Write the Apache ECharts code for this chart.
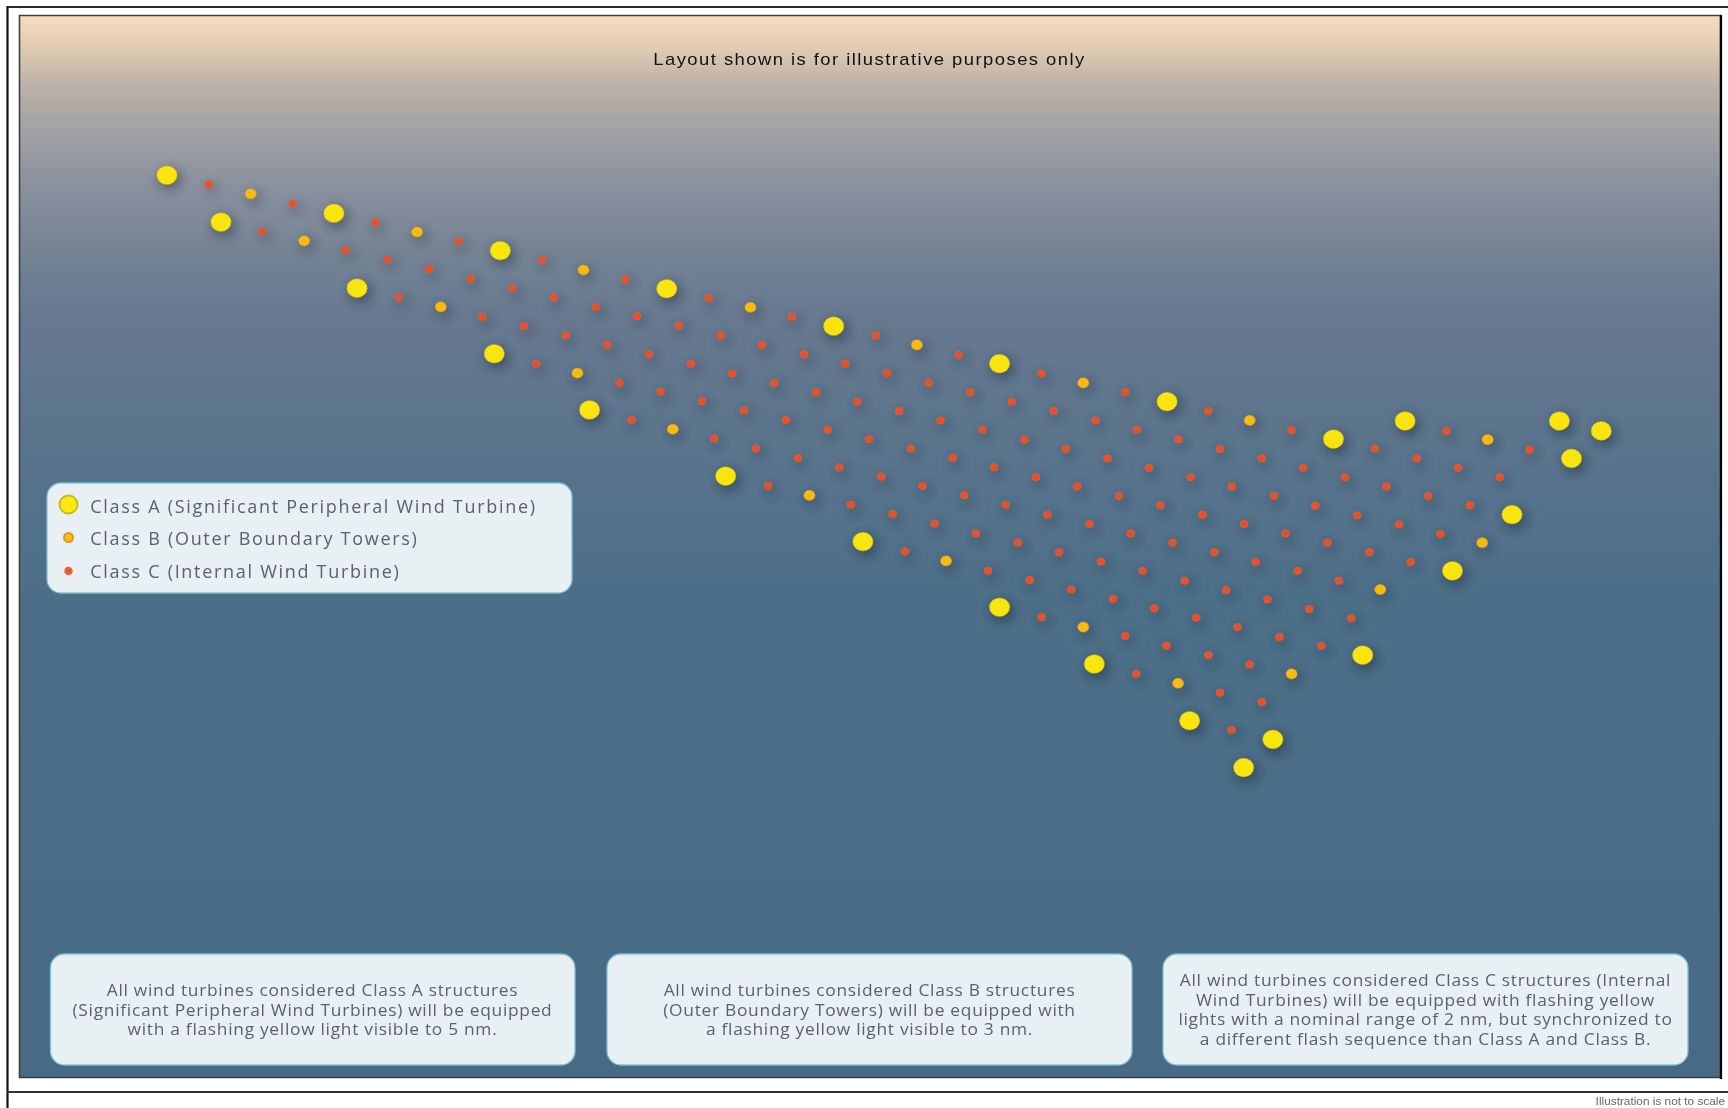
<!DOCTYPE html>
<html><head><meta charset="utf-8">
<style>html,body{margin:0;padding:0;background:#fff}#c{width:1728px;height:1108px}</style>
<script src="https://cdn.jsdelivr.net/npm/echarts@6/dist/echarts.min.js"></script>
</head><body><div id="c"></div>
<script>
const classAName='Class A (Significant Peripheral Wind Turbine)';
const classBName='Class B (Outer Boundary Towers)';
const classCName='Class C (Internal Wind Turbine)';
const titleText='Layout shown is for illustrative purposes only';
const noteText='Illustration is not to scale';
const panelTexts=[
 'All wind turbines considered Class A structures\n(Significant Peripheral Wind Turbines) will be equipped\nwith a flashing yellow light visible to 5 nm.',
 'All wind turbines considered Class B structures\n(Outer Boundary Towers) will be equipped with\na flashing yellow light visible to 3 nm.',
 'All wind turbines considered Class C structures (Internal\nWind Turbines) will be equipped with flashing yellow\nlights with a nominal range of 2 nm, but synchronized to\na different flash sequence than Class A and Class B.'];
// Turbine positions (plan units, east / south)
const classA=[[151.5,159],[303,193.5],[454,227.5],[605,262],[756.5,296],[907,330],[1059,364.5],[1210,398.5],[1275,382],[1415,382],[1453,391],[1426,416],[1372,467],[1318,518],[1236.5,594.5],[1155,671],[200.5,201.5],[324,261.5],[448.5,321],[535,372],[658.5,432],[783,491.5],[907,551],[993,602.5],[1079.5,654],[1128.5,696.5]];
const classB=[[227.5,176],[378.5,210.5],[529.5,245],[681,279],[832,313],[983,347.5],[1134,381.5],[1350,399],[276,218.5],[400,278.5],[524,338.5],[610.5,389.5],[734.5,449.5],[858.5,509],[983,569],[1069,620],[1172,611.5],[1345,492.5],[1252.5,535]];
const classC=[
[189.5,167.5],[265.5,185],[340.5,202],[416,219],[492,236],[567.5,253.5],[643,270.5],[718.5,287.5],[794.5,304.5],[870,322],[945,339],[1021,356],[1096.5,373],[1172,390.5],[1247.5,407],[1285.5,416],[1323,424.5],[1361,433],[1312.5,391],[1388,408],
[238,210],[313.5,227],[351.5,235.5],[389.5,244],[427,253],[465,261.5],[502.5,270],[540.5,278.5],[578,287],[616,295.5],[654,304.5],[691.5,313],[729.5,321.5],[767,330],[805,338.5],[842.5,347.5],[880.5,356],[918,364.5],[956,373],[994,381.5],[1031.5,390],[1069.5,398.5],[1107,407.5],[1145,416],[1182.5,424.5],[1220.5,433],[1258,441.5],[1296,450],[1334,458.5],
[362,270],[437.5,287.5],[475.5,296],[513.5,304.5],[551,313],[589,321.5],[627,330],[664.5,339],[702.5,347.5],[740.5,356],[778,364.5],[816,373],[853.5,381.5],[891.5,390],[929.5,399],[967,407.5],[1005,416],[1042.5,424.5],[1080.5,433],[1118,441.5],[1156,450],[1193.5,459],[1231.5,467.5],[1269.5,476],[1307,484.5],
[486.5,330],[562,347.5],[599.5,355.5],[637,364],[675,372.5],[713,381],[751,390],[788.5,398.5],[826.5,407],[864.5,415.5],[902,424],[940,433],[977.5,441.5],[1015.5,450],[1053,458.5],[1091,467],[1129,475.5],[1166.5,484],[1204.5,492.5],[1242.5,501],[1280,510],
[573,381],[648,398],[686,407],[724,415.5],[761.5,424],[799.5,432.5],[837,441],[875,449.5],[912.5,458],[950.5,467],[988.5,475.5],[1026,484],[1064,492.5],[1102,501],[1139.5,510],[1177.5,518],[1215,527],
[697,441],[772,458],[810,466.5],[848,475],[885.5,484],[923.5,492.5],[961,501],[999,509.5],[1037,518],[1075,527],[1112.5,535.5],[1150,544],[1188,552.5],[1226,561],
[821,500.5],[896.5,518],[934.5,526.5],[972,535],[1010,543.5],[1047.5,552],[1085.5,560.5],[1123,569],[1161,578],[1199,586],
[945,560],[1021,577],[1058.5,586],[1096.5,594.5],[1134,603],
[1031,611.5],[1107,628.5],[1145,637],
[1117.5,662.5]];

// letter spacing for canvas text (ECharts has no option for it)
const origFill=CanvasRenderingContext2D.prototype.fillText;
CanvasRenderingContext2D.prototype.fillText=function(t,x,y,m){
  const f=this.font||'';
  this.letterSpacing=/Open Sans/.test(f)?(/18px/.test(f)?'1.7px':'0.65px'):(/17px/.test(f)?'1.33px':'0px');
  return m===undefined?origFill.call(this,t,x,y):origFill.call(this,t,x,y,m);
};

const ellipse='path://M50 0A50 50 0 1 1 50 100A50 50 0 1 1 50 0Z';
const stretch=1.085, body='"Open Sans"', ink='#5b6168';
function scatter(name,data,size,fill,border){
  return {type:'scatter',name,data,symbol:ellipse,symbolSize:size,silent:true,
    itemStyle:{color:fill,opacity:1,borderColor:border,borderWidth:0.5,shadowBlur:13,shadowOffsetX:3,shadowOffsetY:4,shadowColor:'rgba(10,20,35,0.5)'}};
}
function legendRow(name,h,left,top,shift){
  const tok={color:ink,fontFamily:body,fontSize:18,padding:[shift,0,0,0]};
  return {data:[{name,icon:'circle'}],left,top,padding:0,itemWidth:33.6,itemHeight:h,selectedMode:false,
    formatter:'{t|{name}}',textStyle:{color:ink,fontFamily:body,fontSize:18,rich:{t:tok}}};
}
function panel(x,y,w,h){
  return {type:'rect',shape:{x,y,width:w,height:h,r:14},style:{fill:'#e9f0f3',stroke:'#7cc5d0',lineWidth:1.3}};
}
function label(text,x,y,size,color,family,lh){
  return {type:'text',x,y,scaleX:stretch,z:3,style:{text,fill:color,font:size+'px '+family,textAlign:'center',textVerticalAlign:'middle',lineHeight:lh}};
}
const chart=echarts.init(document.getElementById('c'),null,{renderer:'canvas'});
chart.setOption({
  animation:false,
  backgroundColor:'#fff',
  grid:{left:0,right:0,top:0,bottom:0},
  xAxis:{type:'value',min:0,max:1568,show:false},
  yAxis:{type:'value',min:0,max:1005.4,inverse:true,show:false},
  legend:[legendRow(classAName,18,58.5,494.5,7),legendRow(classBName,9,63,530.5,4),legendRow(classCName,6.5,64.25,563.5,3)],
  graphic:{elements:[
    {type:'line',shape:{x1:7.5,y1:7,x2:1728,y2:7},style:{stroke:'#2b2b2b',lineWidth:2.2}},
    {type:'line',shape:{x1:7.5,y1:6,x2:7.5,y2:1108},style:{stroke:'#111',lineWidth:2.2}},
    {type:'line',shape:{x1:7,y1:1092,x2:1728,y2:1092},style:{stroke:'#333',lineWidth:2.2}},
    {type:'rect',shape:{x:19.5,y:15.5,width:1701,height:1062},
      style:{stroke:'#3c3f42',lineWidth:1.6,fill:new echarts.graphic.LinearGradient(0,0,0,1,[
        {offset:0,color:'#fadcbd'},{offset:0.032,color:'#e0cbb2'},{offset:0.064,color:'#bfb2a8'},{offset:0.095,color:'#a9a7a5'},
        {offset:0.126,color:'#9a9ca2'},{offset:0.158,color:'#8b919e'},{offset:0.189,color:'#808a9a'},{offset:0.22,color:'#758394'},
        {offset:0.252,color:'#6e7e93'},{offset:0.283,color:'#67788f'},{offset:0.4,color:'#5a748c'},{offset:0.55,color:'#4c6e88'},{offset:1,color:'#486a84'}])}},
    {type:'line',shape:{x1:1721,y1:15,x2:1721,y2:1079},style:{stroke:'#000',lineWidth:2.2}},
    panel(47,483,525,110),
    panel(50.5,954,524.5,111),panel(607,954,525,111),panel(1163,954,525,111),
    label(titleText,869.5,60.5,17,'#111','"Liberation Sans"',20),
    label(panelTexts[0],312.5,1011,16,ink,body,19.5),
    label(panelTexts[1],869.5,1011,16,ink,body,19.5),
    label(panelTexts[2],1425.5,1011,16,ink,body,19.5),
    {type:'text',x:1725,y:1102,scaleX:stretch,style:{text:noteText,fill:'#666',font:'10.9px "Liberation Sans"',textAlign:'right',textVerticalAlign:'middle'}}
  ]},
  series:[
    scatter(classAName,classA,[20.3,18.7],'#fde80f','#c9b820'),
    scatter(classBName,classB,[11.2,10.2],'#fdbd13','#d89a20'),
    scatter(classCName,classC,[8,7.5],'#ea512b','#e0683a')
  ]
});
</script></body></html>
